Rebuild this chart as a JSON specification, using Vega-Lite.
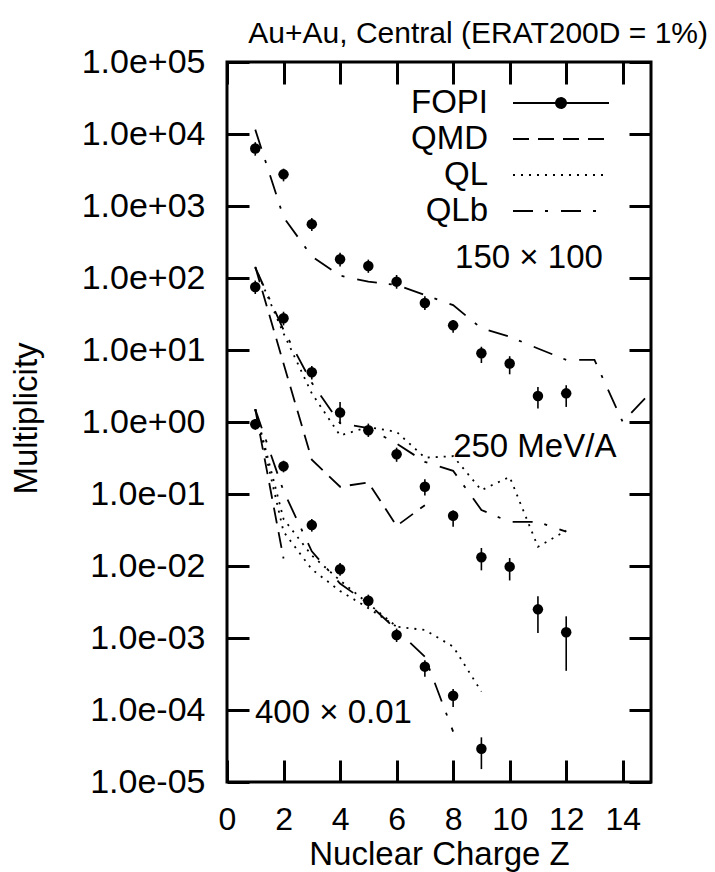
{
  "$schema": "https://vega.github.io/schema/vega-lite/v6.json",
  "width": 424,
  "height": 720,
  "autosize": {"type": "none"},
  "padding": {"left": 227, "top": 62, "right": 64, "bottom": 90},
  "background": "white",
  "config": {
    "view": {"stroke": "black", "strokeWidth": 3},
    "font": "Liberation Sans",
    "axis": {"grid": false, "domain": false}
  },
  "title": {
    "text": "Au+Au, Central (ERAT200D = 1%)",
    "anchor": "end",
    "frame": "group",
    "fontSize": 30,
    "fontWeight": "normal",
    "font": "Liberation Sans",
    "color": "black",
    "baseline": "alphabetic",
    "offset": 5,
    "dx": 57,
    "dy": 33
  },
  "datasets": {
    "fopi": [
      {"set": "150", "Z": 1, "M": 6300, "lo": 5000, "hi": 7700},
      {"set": "150", "Z": 2, "M": 2750, "lo": 2200, "hi": 3300},
      {"set": "150", "Z": 3, "M": 560, "lo": 450, "hi": 680},
      {"set": "150", "Z": 4, "M": 182, "lo": 145, "hi": 225},
      {"set": "150", "Z": 5, "M": 147, "lo": 118, "hi": 180},
      {"set": "150", "Z": 6, "M": 89, "lo": 71, "hi": 110},
      {"set": "150", "Z": 7, "M": 45, "lo": 36, "hi": 56},
      {"set": "150", "Z": 8, "M": 22, "lo": 17.4, "hi": 26},
      {"set": "150", "Z": 9, "M": 9.0, "lo": 6.6, "hi": 11.1},
      {"set": "150", "Z": 10, "M": 6.5, "lo": 4.6, "hi": 8.2},
      {"set": "150", "Z": 11, "M": 2.3, "lo": 1.54, "hi": 3.07},
      {"set": "150", "Z": 12, "M": 2.5, "lo": 1.62, "hi": 3.24},
      {"set": "250", "Z": 1, "M": 75, "lo": 60, "hi": 92},
      {"set": "250", "Z": 2, "M": 27.6, "lo": 22, "hi": 34},
      {"set": "250", "Z": 3, "M": 4.9, "lo": 3.9, "hi": 6.0},
      {"set": "250", "Z": 4, "M": 1.35, "lo": 0.95, "hi": 1.9},
      {"set": "250", "Z": 5, "M": 0.77, "lo": 0.62, "hi": 0.95},
      {"set": "250", "Z": 6, "M": 0.356, "lo": 0.28, "hi": 0.44},
      {"set": "250", "Z": 7, "M": 0.126, "lo": 0.095, "hi": 0.16},
      {"set": "250", "Z": 8, "M": 0.05, "lo": 0.035, "hi": 0.059},
      {"set": "250", "Z": 9, "M": 0.0132, "lo": 0.0087, "hi": 0.0178},
      {"set": "250", "Z": 10, "M": 0.0098, "lo": 0.0063, "hi": 0.0129},
      {"set": "250", "Z": 11, "M": 0.0025, "lo": 0.00117, "hi": 0.0038},
      {"set": "250", "Z": 12, "M": 0.0012, "lo": 0.00035, "hi": 0.002},
      {"set": "400", "Z": 1, "M": 0.93, "lo": 0.78, "hi": 1.1},
      {"set": "400", "Z": 2, "M": 0.243, "lo": 0.2, "hi": 0.29},
      {"set": "400", "Z": 3, "M": 0.037, "lo": 0.03, "hi": 0.045},
      {"set": "400", "Z": 4, "M": 0.009, "lo": 0.0073, "hi": 0.011},
      {"set": "400", "Z": 5, "M": 0.0033, "lo": 0.0027, "hi": 0.004},
      {"set": "400", "Z": 6, "M": 0.0011, "lo": 0.00088, "hi": 0.00135},
      {"set": "400", "Z": 7, "M": 0.0004, "lo": 0.00029, "hi": 0.00049},
      {"set": "400", "Z": 8, "M": 0.000158, "lo": 0.00011, "hi": 0.000195},
      {"set": "400", "Z": 9, "M": 0.000029, "lo": 0.0000151, "hi": 0.0000417}
    ],
    "models": [
      {"set": "150", "model": "QLb", "Z": 1, "M": 11500},
      {"set": "150", "model": "QLb", "Z": 2, "M": 700},
      {"set": "150", "model": "QLb", "Z": 3, "M": 200},
      {"set": "150", "model": "QLb", "Z": 4, "M": 108},
      {"set": "150", "model": "QLb", "Z": 5, "M": 89},
      {"set": "150", "model": "QLb", "Z": 6, "M": 80},
      {"set": "150", "model": "QLb", "Z": 7, "M": 58},
      {"set": "150", "model": "QLb", "Z": 8, "M": 42},
      {"set": "150", "model": "QLb", "Z": 9, "M": 20},
      {"set": "150", "model": "QLb", "Z": 10, "M": 15.3},
      {"set": "150", "model": "QLb", "Z": 11, "M": 10.5},
      {"set": "150", "model": "QLb", "Z": 12, "M": 7.3},
      {"set": "150", "model": "QLb", "Z": 13, "M": 7.3},
      {"set": "150", "model": "QLb", "Z": 14, "M": 1.0},
      {"set": "150", "model": "QLb", "Z": 15, "M": 2.6},
      {"set": "250", "model": "QMD", "Z": 1, "M": 143},
      {"set": "250", "model": "QMD", "Z": 2, "M": 6.5},
      {"set": "250", "model": "QMD", "Z": 3, "M": 0.3},
      {"set": "250", "model": "QMD", "Z": 4, "M": 0.126},
      {"set": "250", "model": "QMD", "Z": 5, "M": 0.145},
      {"set": "250", "model": "QMD", "Z": 6, "M": 0.036},
      {"set": "250", "model": "QMD", "Z": 7, "M": 0.07},
      {"set": "250", "model": "QL", "Z": 1, "M": 140},
      {"set": "250", "model": "QL", "Z": 2, "M": 17},
      {"set": "250", "model": "QL", "Z": 3, "M": 2.5},
      {"set": "250", "model": "QL", "Z": 4, "M": 0.65},
      {"set": "250", "model": "QL", "Z": 5, "M": 0.85},
      {"set": "250", "model": "QL", "Z": 6, "M": 0.73},
      {"set": "250", "model": "QL", "Z": 7, "M": 0.32},
      {"set": "250", "model": "QL", "Z": 8, "M": 0.335},
      {"set": "250", "model": "QL", "Z": 9, "M": 0.113},
      {"set": "250", "model": "QL", "Z": 10, "M": 0.173},
      {"set": "250", "model": "QL", "Z": 11, "M": 0.0185},
      {"set": "250", "model": "QL", "Z": 12, "M": 0.031},
      {"set": "250", "model": "QLb", "Z": 1, "M": 140},
      {"set": "250", "model": "QLb", "Z": 2, "M": 19},
      {"set": "250", "model": "QLb", "Z": 3, "M": 3.5},
      {"set": "250", "model": "QLb", "Z": 4, "M": 0.96},
      {"set": "250", "model": "QLb", "Z": 5, "M": 0.82},
      {"set": "250", "model": "QLb", "Z": 6, "M": 0.5},
      {"set": "250", "model": "QLb", "Z": 7, "M": 0.28},
      {"set": "250", "model": "QLb", "Z": 8, "M": 0.21},
      {"set": "250", "model": "QLb", "Z": 9, "M": 0.06},
      {"set": "250", "model": "QLb", "Z": 10, "M": 0.041},
      {"set": "250", "model": "QLb", "Z": 11, "M": 0.041},
      {"set": "250", "model": "QLb", "Z": 12, "M": 0.03},
      {"set": "400", "model": "QMD", "Z": 1, "M": 1.5},
      {"set": "400", "model": "QMD", "Z": 2, "M": 0.0127},
      {"set": "400", "model": "QL", "Z": 1, "M": 1.5},
      {"set": "400", "model": "QL", "Z": 2, "M": 0.045},
      {"set": "400", "model": "QL", "Z": 3, "M": 0.014},
      {"set": "400", "model": "QL", "Z": 4, "M": 0.0063},
      {"set": "400", "model": "QL", "Z": 5, "M": 0.003},
      {"set": "400", "model": "QL", "Z": 6, "M": 0.00144},
      {"set": "400", "model": "QL", "Z": 7, "M": 0.00129},
      {"set": "400", "model": "QL", "Z": 8, "M": 0.00076},
      {"set": "400", "model": "QL", "Z": 9, "M": 0.00018},
      {"set": "400 (2)", "model": "QL", "Z": 1, "M": 1.5},
      {"set": "400 (2)", "model": "QL", "Z": 2, "M": 0.03},
      {"set": "400 (2)", "model": "QL", "Z": 3, "M": 0.009},
      {"set": "400 (2)", "model": "QL", "Z": 4, "M": 0.0045},
      {"set": "400 (2)", "model": "QL", "Z": 5, "M": 0.0026},
      {"set": "400 (2)", "model": "QL", "Z": 6, "M": 0.00144},
      {"set": "400", "model": "QLb", "Z": 1, "M": 1.5},
      {"set": "400", "model": "QLb", "Z": 2, "M": 0.11},
      {"set": "400", "model": "QLb", "Z": 3, "M": 0.016},
      {"set": "400", "model": "QLb", "Z": 4, "M": 0.0057},
      {"set": "400", "model": "QLb", "Z": 5, "M": 0.003},
      {"set": "400", "model": "QLb", "Z": 6, "M": 0.0013},
      {"set": "400", "model": "QLb", "Z": 7, "M": 0.00055},
      {"set": "400", "model": "QLb", "Z": 8, "M": 0.00005}
    ],
    "notes": [
      {"text": "150 × 100", "Z": 8.07, "M": 136},
      {"text": "250 MeV/A", "Z": 8.0, "M": 0.324},
      {"text": "400 × 0.01", "Z": 0.99, "M": 0.000066}
    ]
  },
  "resolve": {"axis": {"x": "independent", "y": "independent"}},
  "layer": [
    {
      "data": {"name": "fopi"},
      "mark": {"type": "rule", "color": "black", "strokeWidth": 1.6},
      "encoding": {
        "x": {
          "field": "Z", "type": "quantitative",
          "scale": {"domain": [0, 15], "nice": false, "zero": false},
          "axis": {
            "orient": "bottom",
            "values": [0, 2, 4, 6, 8, 10, 12, 14],
            "tickSize": -22, "tickWidth": 3, "tickColor": "black",
            "labelFontSize": 32, "labelColor": "black", "labelFont": "Liberation Sans",
            "labelBaseline": "alphabetic", "labelPadding": 69, "labelFlush": false,
            "title": "Nuclear Charge Z", "titleFontSize": 33, "titleFontWeight": "normal",
            "titleColor": "black", "titleFont": "Liberation Sans",
            "titleBaseline": "alphabetic", "titleY": 82, "titleX": 212, "titleAlign": "center"
          }
        },
        "y": {
          "field": "lo", "type": "quantitative",
          "scale": {"type": "log", "domain": [0.00001, 100000], "nice": false},
          "axis": {
            "orient": "left",
            "values": [0.00001, 0.0001, 0.001, 0.01, 0.1, 1, 10, 100, 1000, 10000, 100000],
            "labelExpr": "'1.0e' + (datum.value >= 1 ? '+' : '-') + '0' + format(abs(round(log(datum.value) / LN10)), 'd')",
            "tickSize": -22, "tickWidth": 3, "tickColor": "black",
            "labelFontSize": 34, "labelColor": "black", "labelFont": "Liberation Sans",
            "labelPadding": 44, "labelBaseline": "middle", "labelFlush": false, "labelOverlap": false,
            "title": "Multiplicity", "titleFontSize": 33, "titleFontWeight": "normal",
            "titleColor": "black", "titleFont": "Liberation Sans",
            "titleAngle": 270, "titleBaseline": "alphabetic", "titleAlign": "center",
            "titleX": -191, "titleY": 356
          }
        },
        "y2": {"field": "hi"}
      }
    },
    {
      "data": {"name": "fopi"},
      "mark": {"type": "circle", "color": "black", "opacity": 1, "size": 110},
      "encoding": {
        "x": {"field": "Z", "type": "quantitative", "axis": null},
        "y": {"field": "M", "type": "quantitative", "axis": null}
      }
    },
    {
      "data": {"name": "models"},
      "mark": {"type": "line", "color": "black", "strokeWidth": 1.8, "clip": true},
      "encoding": {
        "x": {
          "field": "Z", "type": "quantitative",
          "axis": {
            "orient": "top", "labels": false, "title": null,
            "values": [0, 2, 4, 6, 8, 10, 12, 14],
            "tickSize": -22, "tickWidth": 3, "tickColor": "black"
          }
        },
        "y": {
          "field": "M", "type": "quantitative",
          "axis": {
            "orient": "right", "labels": false, "title": null,
            "values": [0.00001, 0.0001, 0.001, 0.01, 0.1, 1, 10, 100, 1000, 10000, 100000],
            "tickSize": -22, "tickWidth": 3, "tickColor": "black"
          }
        },
        "detail": {"field": "set"},
        "strokeDash": {
          "field": "model", "type": "nominal",
          "scale": {
            "domain": ["FOPI", "QMD", "QL", "QLb"],
            "range": [[1, 0], [16, 9], [2, 6], [20, 12, 3, 13]]
          },
          "legend": {
            "orient": "none", "legendX": 315, "legendY": 22,
            "title": null, "padding": 0, "offset": 0,
            "symbolSize": 1296, "symbolType": "M-2.667,0H2.667",
            "symbolStrokeWidth": 1.8, "symbolStrokeColor": "black",
            "labelFontSize": 33, "labelFont": "Liberation Sans", "labelColor": "black",
            "labelAlign": "right", "labelOffset": -92, "labelLimit": 0, "rowPadding": 0,
            "encode": {
              "symbols": {
                "update": {
                  "shape": {"signal": "datum.value === 'FOPI' ? 'M-2.667,0H2.667M-0.28,0A0.28,0.28 0 1,0 0.28,0A0.28,0.28 0 1,0 -0.28,0' : 'M-2.667,0H2.667'"},
                  "fill": {"signal": "datum.value === 'FOPI' ? 'black' : 'transparent'"},
                  "stroke": {"value": "black"},
                  "strokeWidth": {"value": 1.8},
                  "opacity": {"value": 1}
                }
              }
            }
          }
        }
      }
    },
    {
      "data": {"name": "notes"},
      "mark": {"type": "text", "align": "left", "baseline": "alphabetic", "fontSize": 33, "font": "Liberation Sans", "color": "black"},
      "encoding": {
        "x": {"field": "Z", "type": "quantitative", "axis": null},
        "y": {"field": "M", "type": "quantitative", "axis": null},
        "text": {"field": "text"}
      }
    }
  ]
}
